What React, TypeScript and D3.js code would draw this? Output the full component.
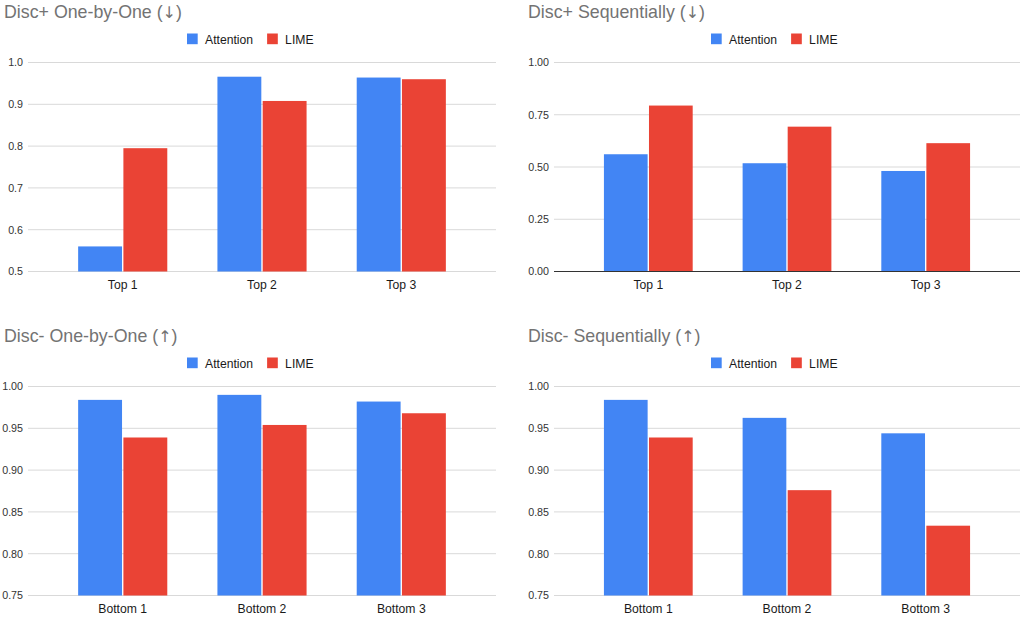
import { useEffect, useRef } from "react";
import * as d3 from "d3";

// categories & series
const topCategories = ["Top 1", "Top 2", "Top 3"];
const bottomCategories = ["Bottom 1", "Bottom 2", "Bottom 3"];
const seriesNames = ["Attention", "LIME"];

// values
const discPlusOneAttention = [0.56, 0.966, 0.964];
const discPlusOneLime = [0.795, 0.908, 0.96];
const discPlusSeqAttention = [0.561, 0.518, 0.481];
const discPlusSeqLime = [0.794, 0.693, 0.614];
const discMinusOneAttention = [0.984, 0.99, 0.982];
const discMinusOneLime = [0.939, 0.954, 0.968];
const discMinusSeqAttention = [0.984, 0.9625, 0.944];
const discMinusSeqLime = [0.939, 0.876, 0.8335];

// y axis ticks
const ticksPlusOne = [0.5, 0.6, 0.7, 0.8, 0.9, 1.0];
const ticksPlusSeq = [0, 0.25, 0.5, 0.75, 1.0];
const ticksMinus = [0.75, 0.8, 0.85, 0.9, 0.95, 1.0];

const colors = ["#4285F4", "#EA4335"];

const panels = [
  {
    title: "Disc+ One-by-One",
    arrow: "\u2193",
    categories: topCategories,
    values: [discPlusOneAttention, discPlusOneLime],
    ticks: ticksPlusOne,
    fmt: ".1f",
    ox: 0,
    oy: 0,
    plotLeft: 28,
  },
  {
    title: "Disc+ Sequentially",
    arrow: "\u2193",
    categories: topCategories,
    values: [discPlusSeqAttention, discPlusSeqLime],
    ticks: ticksPlusSeq,
    fmt: ".2f",
    ox: 524,
    oy: 0,
    plotLeft: 30,
  },
  {
    title: "Disc- One-by-One",
    arrow: "\u2191",
    categories: bottomCategories,
    values: [discMinusOneAttention, discMinusOneLime],
    ticks: ticksMinus,
    fmt: ".2f",
    ox: 0,
    oy: 324,
    plotLeft: 28,
  },
  {
    title: "Disc- Sequentially",
    arrow: "\u2191",
    categories: bottomCategories,
    values: [discMinusSeqAttention, discMinusSeqLime],
    ticks: ticksMinus,
    fmt: ".2f",
    ox: 524,
    oy: 324,
    plotLeft: 30,
  },
];

const App = () => {
  const ref = useRef<SVGSVGElement>(null);
  const width = 1024;
  const height = 618;
  const font = "'Liberation Sans', Arial, Helvetica, sans-serif";

  useEffect(() => {
    const svg = d3.select(ref.current);
    svg.selectAll("*").remove();
    svg.append("rect").attr("width", width).attr("height", height).attr("fill", "#fff");

    const plotRight = 496;
    const gridTop = 62.5;
    const gridBottom = 271.5;

    panels.forEach((p) => {
      const g = svg.append("g").attr("transform", `translate(${p.ox},${p.oy})`);

      // title, arrow drawn with DejaVu so it is full height
      const title = g
        .append("text")
        .attr("x", 4)
        .attr("y", 17.5)
        .attr("font-size", 17.8)
        .attr("fill", "#737373");
      title.append("tspan").text(p.title + " (");
      title.append("tspan").attr("font-family", "'DejaVu Sans'").attr("font-size", 16).text(p.arrow);
      title.append("tspan").text(")");

      // legend
      const legend = g.append("g").attr("transform", "translate(187,33.5)");
      let lx = 0;
      seriesNames.forEach((name, i) => {
        legend.append("rect").attr("x", lx).attr("y", 0).attr("width", 10.7).attr("height", 10.7).attr("fill", colors[i]);
        const t = legend
          .append("text")
          .attr("x", lx + 18)
          .attr("y", 10.5)
          .attr("font-size", 12.2)
          .attr("fill", "#1a1a1a")
          .text(name);
        const w = (t.node() as SVGTextElement).getComputedTextLength();
        lx += 18 + w + 14;
      });

      const y = d3
        .scaleLinear()
        .domain([p.ticks[0], p.ticks[p.ticks.length - 1]])
        .range([gridBottom, gridTop]);

      const x = d3
        .scaleBand()
        .domain(p.categories)
        .range([p.plotLeft, plotRight])
        .paddingInner(0.36)
        .paddingOuter(0.36);

      const xs = d3.scaleBand().domain(seriesNames).range([0, x.bandwidth()]).paddingInner(0.03);

      // gridlines
      g.append("g")
        .selectAll("line")
        .data(p.ticks)
        .join("line")
        .attr("x1", p.plotLeft)
        .attr("x2", plotRight)
        .attr("y1", (d) => y(d))
        .attr("y2", (d) => y(d))
        .attr("stroke", "#d9d9d9")
        .attr("stroke-width", 1);

      // y tick labels
      g.append("g")
        .selectAll("text")
        .data(p.ticks)
        .join("text")
        .attr("x", p.plotLeft - 5)
        .attr("y", (d) => y(d))
        .attr("dy", "0.36em")
        .attr("text-anchor", "end")
        .attr("font-size", 10.7)
        .attr("fill", "#333")
        .text((d) => d3.format(p.fmt)(d));

      // bars
      const base = y.domain()[0];
      p.categories.forEach((cat, ci) => {
        seriesNames.forEach((s, si) => {
          const v = p.values[si][ci];
          g.append("rect")
            .attr("x", (x(cat) ?? 0) + (xs(s) ?? 0))
            .attr("y", y(v))
            .attr("width", xs.bandwidth())
            .attr("height", y(base) - y(v))
            .attr("fill", colors[si]);
        });
      });

      // zero baseline
      if (base === 0) {
        g.append("line")
          .attr("x1", p.plotLeft)
          .attr("x2", plotRight)
          .attr("y1", y(0))
          .attr("y2", y(0))
          .attr("stroke", "#333")
          .attr("stroke-width", 1);
      }

      // x labels
      g.append("g")
        .selectAll("text")
        .data(p.categories)
        .join("text")
        .attr("x", (d) => (x(d) ?? 0) + x.bandwidth() / 2)
        .attr("y", gridBottom + 17.5)
        .attr("text-anchor", "middle")
        .attr("font-size", 12.2)
        .attr("fill", "#1a1a1a")
        .text((d) => d);
    });
  }, []);

  return (
    <svg
      ref={ref}
      width={width}
      height={height}
      style={{ position: "absolute", left: 0, top: 0, fontFamily: font }}
    />
  );
};

export default App;
